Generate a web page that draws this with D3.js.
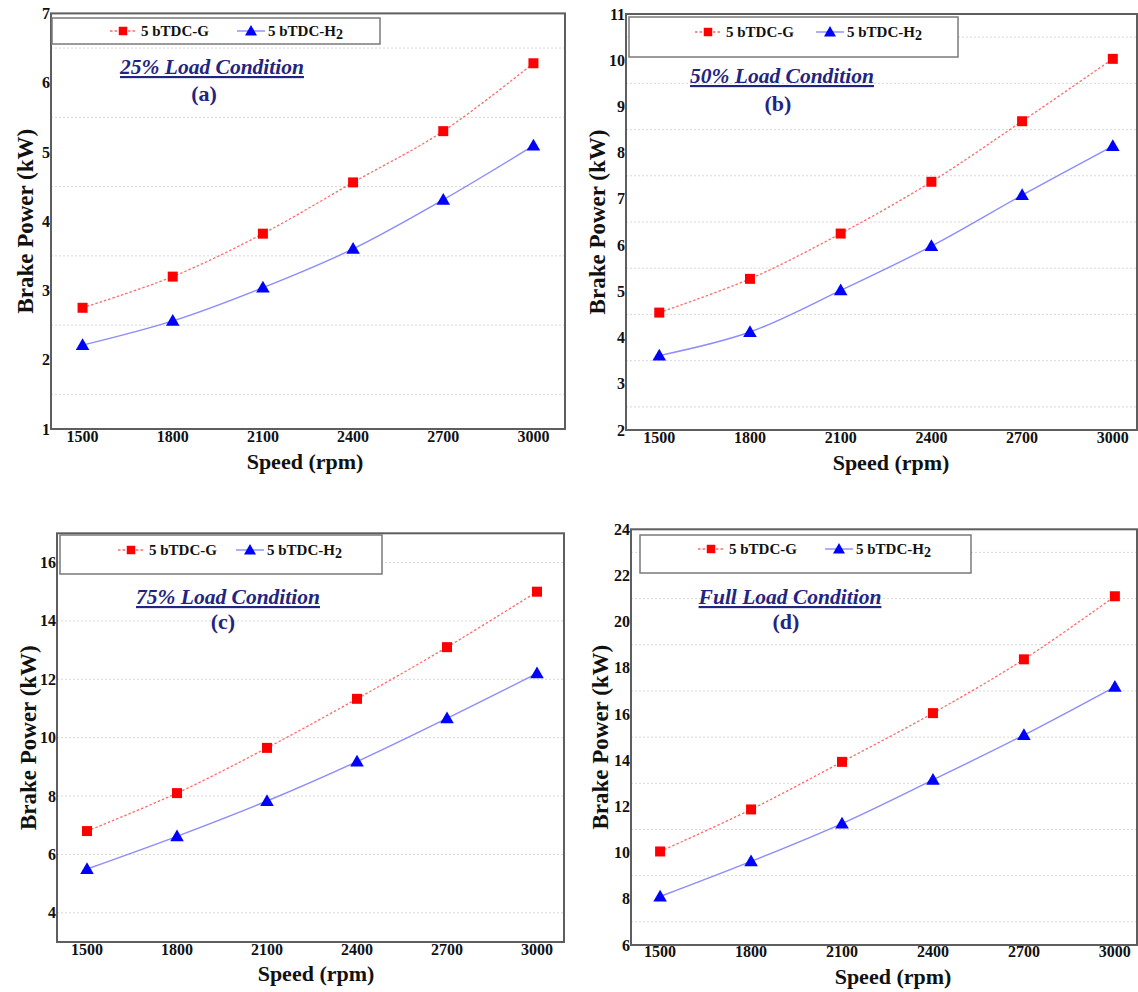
<!DOCTYPE html>
<html>
<head>
<meta charset="utf-8">
<script src="https://cdn.jsdelivr.net/npm/d3@7"></script>
<style>
  html, body { margin: 0; padding: 0; background: #fff; }
  svg { display: block; font-family: "Liberation Serif", "Times New Roman", serif; }
</style>
</head>
<body>
<svg id="chart" width="1138" height="992"></svg>
<script>
// Engine speed (rpm) shared by all four load conditions
const speeds = [1500, 1800, 2100, 2400, 2700, 3000];

// Brake power (kW), gasoline vs hydrogen at 5° bTDC
const load25G  = [2.75, 3.20, 3.82, 4.56, 5.30, 6.28];
const load25H2 = [2.21, 2.56, 3.04, 3.60, 4.31, 5.09];
const load50G  = [4.54, 5.27, 6.25, 7.37, 8.68, 10.03];
const load50H2 = [3.61, 4.12, 5.02, 5.98, 7.08, 8.14];
const load75G  = [6.80, 8.10, 9.65, 11.33, 13.10, 15.00];
const load75H2 = [5.50, 6.62, 7.83, 9.18, 10.66, 12.20];
const fullG    = [10.05, 11.87, 13.93, 16.04, 18.37, 21.10];
const fullH2   = [8.10, 9.62, 11.26, 13.15, 15.09, 17.18];

// Axis ticks and panel captions
const yTicksA = [1, 2, 3, 4, 5, 6, 7];
const yTicksB = [2, 3, 4, 5, 6, 7, 8, 9, 10, 11];
const yTicksC = [4, 6, 8, 10, 12, 14, 16];
const yTicksD = [6, 8, 10, 12, 14, 16, 18, 20, 22, 24];
const titles  = ["25% Load Condition", "50% Load Condition", "75% Load Condition", "Full Load Condition"];
const letters = ["(a)", "(b)", "(c)", "(d)"];
const seriesNames = ["5 bTDC-G", "5 bTDC-H"];

const panels = [
  { g: load25G, h: load25H2, ticks: yTicksA, yDom: [1, 7], gridStep: 1,
    box: { l: 51, r: 565, t: 13.4, b: 429 }, xDom: [1395, 3105],
    leg: { l: 52, r: 380, t: 18, b: 44, y: 31, x1: 110, x2: 237 },
    title: { x: 212, y: 74, ly: 101, lx: 204 }, yTitleX: 33, xTitleY: 469, xTitleX: 305, xTickY: 442 },
  { g: load50G, h: load50H2, ticks: yTicksB, yDom: [2, 11], gridStep: 1,
    box: { l: 626, r: 1137, t: 14, b: 430 }, xDom: [1390, 3080],
    leg: { l: 629, r: 958, t: 17, b: 57, y: 32, x1: 695, x2: 816 },
    title: { x: 782, y: 83, ly: 111, lx: 778 }, yTitleX: 605, xTitleY: 470, xTitleX: 891, xTickY: 443 },
  { g: load75G, h: load75H2, ticks: yTicksC, yDom: [3, 17], gridStep: 2,
    box: { l: 57, r: 564, t: 533.3, b: 942 }, xDom: [1400, 3090],
    leg: { l: 60, r: 382, t: 535, b: 574, y: 550, x1: 118, x2: 236 },
    title: { x: 228, y: 604, ly: 629, lx: 223 }, yTitleX: 36, xTitleY: 981, xTitleX: 316, xTickY: 955 },
  { g: fullG, h: fullH2, ticks: yTicksD, yDom: [6, 24], gridStep: 2,
    box: { l: 631, r: 1137, t: 529.3, b: 945 }, xDom: [1404, 3073],
    leg: { l: 640, r: 971, t: 535, b: 573, y: 549, x1: 698, x2: 825 },
    title: { x: 790, y: 604, ly: 629, lx: 786 }, yTitleX: 608, xTitleY: 984, xTitleX: 893, xTickY: 957 }
];

const RED = "#ff0000", RED_LINE = "#ff6a6a";
const BLUE = "#0000ff", BLUE_LINE = "#8c8cff";
const NAVY = "#1f2580";

const svg = d3.select("#chart");
const sym = (type, size) => d3.symbol().type(type).size(size)();

panels.forEach((p, i) => {
  const x = d3.scaleLinear().domain(p.xDom).range([p.box.l, p.box.r]);
  const y = d3.scaleLinear().domain(p.yDom).range([p.box.b, p.box.t]);
  const g = svg.append("g");

  // dotted grid lines halfway between labelled ticks
  const grid = d3.range(p.yDom[0] + p.gridStep / 2, p.yDom[1], p.gridStep);
  g.selectAll(".grid").data(grid).join("line")
    .attr("x1", p.box.l).attr("x2", p.box.r)
    .attr("y1", d => y(d)).attr("y2", d => y(d))
    .attr("stroke", "#d8d8d8").attr("stroke-width", 1).attr("stroke-dasharray", "2,2");

  // y tick labels
  g.selectAll(".yt").data(p.ticks).join("text")
    .attr("x", p.box.l - 1).attr("y", d => y(d)).attr("dy", "0.35em")
    .attr("text-anchor", "end").attr("font-size", 16).attr("font-weight", "bold")
    .attr("fill", "#111").text(d => d);

  // x tick labels
  g.selectAll(".xt").data(speeds).join("text")
    .attr("x", d => x(d)).attr("y", p.xTickY)
    .attr("text-anchor", "middle").attr("font-size", 16).attr("font-weight", "bold")
    .attr("fill", "#111").text(d => d);

  // axis titles
  g.append("text")
    .attr("transform", `translate(${p.yTitleX},${(p.box.t + p.box.b) / 2}) rotate(-90)`)
    .attr("text-anchor", "middle").attr("font-size", 23).attr("font-weight", "bold")
    .attr("fill", "#111").text("Brake Power (kW)");
  g.append("text")
    .attr("x", p.xTitleX).attr("y", p.xTitleY)
    .attr("text-anchor", "middle").attr("font-size", 22).attr("font-weight", "bold")
    .attr("fill", "#111").text("Speed (rpm)");

  // curves
  const line = d3.line().x((d, k) => x(speeds[k])).y(d => y(d)).curve(d3.curveCatmullRom.alpha(0.5));
  g.append("path").attr("d", line(p.g)).attr("fill", "none")
    .attr("stroke", RED_LINE).attr("stroke-width", 1.3).attr("stroke-dasharray", "2.5,2");
  g.append("path").attr("d", line(p.h)).attr("fill", "none")
    .attr("stroke", BLUE_LINE).attr("stroke-width", 1.4);

  // markers
  g.selectAll(".sq").data(p.g).join("path")
    .attr("transform", (d, k) => `translate(${x(speeds[k])},${y(d)})`)
    .attr("d", sym(d3.symbolSquare, 100)).attr("fill", RED);
  g.selectAll(".tri").data(p.h).join("path")
    .attr("transform", (d, k) => `translate(${x(speeds[k])},${y(d) + 1})`)
    .attr("d", sym(d3.symbolTriangle, 80)).attr("fill", BLUE);

  // frame
  g.append("rect")
    .attr("x", p.box.l).attr("y", p.box.t)
    .attr("width", p.box.r - p.box.l).attr("height", p.box.b - p.box.t)
    .attr("fill", "none").attr("stroke", "#5e5e5e").attr("stroke-width", 2);

  // legend
  const L = p.leg;
  g.append("rect").attr("x", L.l).attr("y", L.t)
    .attr("width", L.r - L.l).attr("height", L.b - L.t)
    .attr("fill", "#fff").attr("stroke", "#7a7a7a").attr("stroke-width", 1.5);
  g.append("line").attr("x1", L.x1).attr("x2", L.x1 + 25).attr("y1", L.y).attr("y2", L.y)
    .attr("stroke", RED_LINE).attr("stroke-width", 1.3).attr("stroke-dasharray", "2.5,2");
  g.append("path").attr("transform", `translate(${L.x1 + 13},${L.y})`)
    .attr("d", sym(d3.symbolSquare, 72)).attr("fill", RED);
  g.append("text").attr("x", L.x1 + 31).attr("y", L.y).attr("dy", "0.35em")
    .attr("font-size", 15).attr("font-weight", "bold").attr("fill", "#111").text(seriesNames[0]);
  g.append("line").attr("x1", L.x2).attr("x2", L.x2 + 28).attr("y1", L.y).attr("y2", L.y)
    .attr("stroke", BLUE_LINE).attr("stroke-width", 1.4);
  g.append("path").attr("transform", `translate(${L.x2 + 14},${L.y + 1})`)
    .attr("d", sym(d3.symbolTriangle, 62)).attr("fill", BLUE);
  const hl = g.append("text").attr("x", L.x2 + 31).attr("y", L.y).attr("dy", "0.35em")
    .attr("font-size", 15).attr("font-weight", "bold").attr("fill", "#111");
  hl.append("tspan").text(seriesNames[1]);
  hl.append("tspan").attr("dy", 3).attr("font-size", 14).text("2");

  // load condition caption
  g.append("text").attr("x", p.title.x).attr("y", p.title.y)
    .attr("text-anchor", "middle").attr("font-size", 21.5).attr("font-weight", "bold")
    .attr("font-style", "italic").attr("text-decoration", "underline")
    .attr("fill", NAVY).text(titles[i]);
  g.append("text").attr("x", p.title.lx).attr("y", p.title.ly)
    .attr("text-anchor", "middle").attr("font-size", 22).attr("font-weight", "bold")
    .attr("fill", NAVY).text(letters[i]);
});
</script>
</body>
</html>
